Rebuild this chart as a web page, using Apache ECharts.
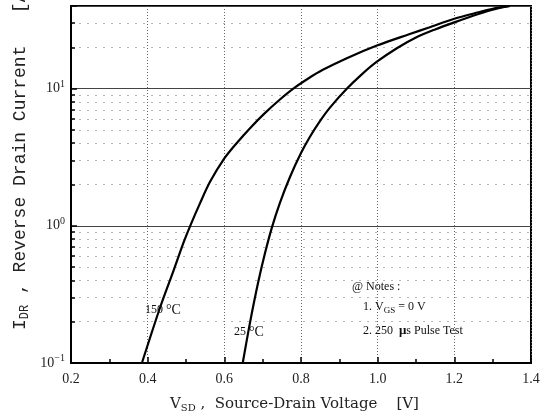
<!DOCTYPE html>
<html><head><meta charset="utf-8">
<script src="https://cdn.jsdelivr.net/npm/echarts@6/dist/echarts.min.js"></script>
<style>html,body{margin:0;padding:0;background:#fff}#c{width:544px;height:418px}</style>
</head><body><div id="c"></div>
<script>
// Source-drain voltage (V) and reverse drain current (A)
const vsd150 = [0.385, 0.433, 0.468, 0.494, 0.511, 0.537, 0.563, 0.600, 0.632, 0.667, 0.705, 0.745, 0.780, 0.820, 0.857, 0.918, 0.998, 1.082, 1.134, 1.200, 1.263, 1.300, 1.345];
const idr150 = [0.10, 0.257, 0.476, 0.76, 1.00, 1.47, 2.10, 3.10, 4.00, 5.15, 6.60, 8.33, 10.0, 11.9, 13.7, 16.6, 20.6, 24.9, 27.9, 32.3, 36.0, 38.2, 40.0];
const vsd25  = [0.648, 0.667, 0.688, 0.706, 0.724, 0.745, 0.771, 0.800, 0.823, 0.849, 0.875, 0.920, 0.960, 0.998, 1.050, 1.100, 1.150, 1.200, 1.263, 1.300, 1.345];
const idr25  = [0.10, 0.197, 0.384, 0.63, 0.97, 1.47, 2.26, 3.39, 4.44, 5.77, 7.24, 10.0, 12.8, 15.7, 19.7, 23.6, 27.0, 30.4, 35.0, 37.6, 40.0];
const xTickLabels = ['0.2', '0.4', '0.6', '0.8', '1.0', '1.2', '1.4'];
const yTickExponents = ['\u22121', '0', '1'];
const seriesNames = ['150 \u00B0C', '25 \u00B0C'];

const chart = echarts.init(document.getElementById('c'), null, {renderer: 'canvas'});
const zip = (a, b) => a.map((v, i) => [v, b[i]]);
const tickFont = 'Liberation Serif';

chart.setOption({
  animation: false,
  backgroundColor: '#fff',
  grid: {left: 71, right: 13, top: 6, bottom: 55, show: true, borderColor: '#000', borderWidth: 2, backgroundColor: 'transparent'},
  xAxis: {
    type: 'value', min: 0.2, max: 1.4, interval: 0.2,
    axisLine: {show: true, onZero: false, lineStyle: {color: '#000', width: 2}},
    axisTick: {show: true, inside: true, length: 6, lineStyle: {color: '#000', width: 1.5}},
    minorTick: {show: true, splitNumber: 2, length: 4, lineStyle: {color: '#000', width: 1.5}},
    splitLine: {show: true, lineStyle: {color: '#666', width: 1, type: [1, 2]}},
    axisLabel: {
      margin: 9, color: '#222', fontFamily: tickFont, fontSize: 14,
      formatter: v => { const i = Math.round((v - 0.2) / 0.2); return xTickLabels[i] || ''; }
    }
  },
  yAxis: {
    type: 'log', logBase: 10, min: 0.1, max: 40,
    axisLine: {show: true, onZero: false, lineStyle: {color: '#000', width: 2}},
    axisTick: {show: true, inside: true, length: 6, lineStyle: {color: '#000', width: 1.5}},
    minorTick: {show: true, splitNumber: 9, length: 4, lineStyle: {color: '#000', width: 1.5}},
    splitLine: {show: true, lineStyle: {color: '#444', width: 1, type: 'solid'}},
    minorSplitLine: {show: true, lineStyle: {color: '#b5b5b5', width: 1, type: [2, 6]}},
    axisLabel: {
      margin: 6, color: '#222', fontFamily: tickFont,
      showMaxLabel: false,
      formatter: v => {
        const e = Math.log10(v);
        if (Math.abs(e - Math.round(e)) > 1e-6) return '';
        const idx = Math.round(e) + 1;
        if (idx < 0 || idx >= yTickExponents.length) return '';
        return '{b|10}{s|' + yTickExponents[idx] + '}';
      },
      rich: {
        b: {fontFamily: tickFont, fontSize: 14, color: '#222'},
        s: {fontFamily: tickFont, fontSize: 10, color: '#222', padding: [0, 0, 9, 0]}
      }
    }
  },
  series: [
    {name: seriesNames[0], type: 'line', data: zip(vsd150, idr150), smooth: 0.3, symbol: 'none', clip: true,
     lineStyle: {color: '#000', width: 2.2}},
    {name: seriesNames[1], type: 'line', data: zip(vsd25, idr25), smooth: 0.3, symbol: 'none', clip: true,
     lineStyle: {color: '#000', width: 2.2}}
  ],
  graphic: [
    {type: 'text', left: 145, top: 303, z: 10, style: {
      text: '150 {d|\u00B0C}', fill: '#111', font: '12px Liberation Serif',
      rich: {d: {fontSize: 14, fontFamily: 'Liberation Serif', fill: '#111'}}}},
    {type: 'text', left: 234, top: 325, z: 10, style: {
      text: '25 {d|\u00B0C}', fill: '#111', font: '12px Liberation Serif',
      rich: {d: {fontSize: 14, fontFamily: 'Liberation Serif', fill: '#111'}}}},
    {type: 'text', left: 352, top: 281, z: 10, style: {
      text: '@ Notes :', fill: '#111', font: '12px Liberation Serif'}},
    {type: 'text', left: 363, top: 301, z: 10, style: {
      text: '1. V{sub|GS} = 0 V', fill: '#111', font: '12px Liberation Serif',
      rich: {sub: {fontSize: 9, fontFamily: 'Liberation Serif', fill: '#111', padding: [7, 0, 0, 0]}}}},
    {type: 'text', left: 363, top: 324, z: 10, style: {
      text: '2. 250  {mu|\u03BC}s Pulse Test', fill: '#111', font: '12px Liberation Serif',
      rich: {mu: {fontSize: 13, fontWeight: 'bold', fontFamily: 'Liberation Serif', fill: '#111'}}}},
    // x axis title
    {type: 'text', x: 170, y: 404, z: 10, style: {
      text: 'V{sub|SD} ,  Source-Drain Voltage    [V]', fill: '#222', font: '15px DejaVu Serif',
      textAlign: 'left', textVerticalAlign: 'middle',
      rich: {sub: {fontSize: 10, fontFamily: 'DejaVu Serif', fill: '#222', padding: [9, 0, 0, 0]}}}},
    // y axis title (rotated)
    {type: 'text', x: 20, y: 330, rotation: Math.PI / 2, z: 10, style: {
      text: 'I{sub|DR} , Reverse Drain Current   [A]', fill: '#222', font: '18px Liberation Mono',
      textAlign: 'left', textVerticalAlign: 'middle',
      rich: {sub: {fontSize: 12, fontFamily: 'Liberation Mono', fill: '#222', padding: [10, 0, 0, 0]}}}}
  ]
});
</script>
</body></html>
